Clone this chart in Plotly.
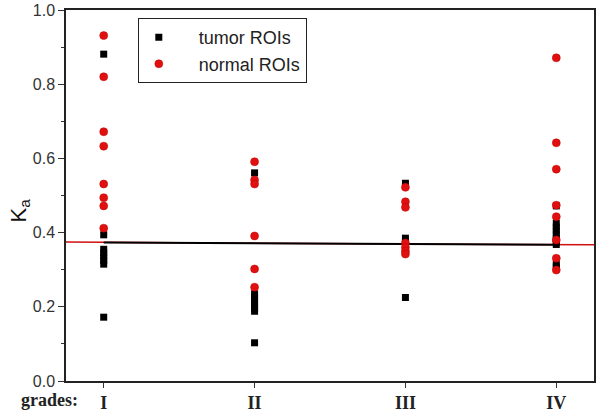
import plotly.graph_objects as go

grades = ["I", "II", "III", "IV"]
grade_pos = [1, 2, 3, 4]

tumor_I = [0.881, 0.394, 0.355, 0.345, 0.335, 0.325, 0.315, 0.172]
tumor_II = [0.561, 0.235, 0.225, 0.215, 0.205, 0.195, 0.188, 0.103]
tumor_III = [0.533, 0.385, 0.375, 0.225]
tumor_IV = [0.472, 0.425, 0.415, 0.405, 0.395, 0.385, 0.375, 0.368, 0.315, 0.308]

normal_I = [0.931, 0.820, 0.672, 0.633, 0.531, 0.494, 0.472, 0.412]
normal_II = [0.591, 0.542, 0.531, 0.391, 0.302, 0.253]
normal_III = [0.522, 0.483, 0.468, 0.372, 0.360, 0.350, 0.342]
normal_IV = [0.871, 0.642, 0.571, 0.474, 0.443, 0.380, 0.331, 0.299]

tumor_mean = [0.373, 0.372, 0.369, 0.367]
normal_line_x = [0.75, 1, 2, 3, 4, 4.25]
normal_line_y = [0.375, 0.374, 0.371, 0.369, 0.367, 0.367]

tumor_groups = [tumor_I, tumor_II, tumor_III, tumor_IV]
normal_groups = [normal_I, normal_II, normal_III, normal_IV]

def flatten(groups):
    xs, ys = [], []
    for p, g in zip(grade_pos, groups):
        xs += [p] * len(g)
        ys += g
    return xs, ys

tx, ty = flatten(tumor_groups)
nx, ny = flatten(normal_groups)

pad = "&nbsp;" * 4

fig = go.Figure()
fig.add_trace(go.Scatter(x=normal_line_x, y=normal_line_y, mode="lines",
                         line=dict(color="#d01010", width=1.5), showlegend=False, hoverinfo="skip"))
fig.add_trace(go.Scatter(x=grade_pos, y=tumor_mean, mode="lines",
                         line=dict(color="black", width=2), showlegend=False, hoverinfo="skip"))
fig.add_trace(go.Scatter(x=tx, y=ty, mode="markers", name=pad + "tumor ROIs",
                         marker=dict(symbol="square", size=7, color="black")))
fig.add_trace(go.Scatter(x=nx, y=ny, mode="markers", name=pad + "normal ROIs",
                         marker=dict(symbol="circle", size=8, color="#e01010",
                                     line=dict(color="#c00000", width=0.5))))

fig.update_layout(
    width=601, height=415,
    margin=dict(l=66, r=7, t=10, b=34, autoexpand=False),
    plot_bgcolor="white", paper_bgcolor="white",
    font=dict(family="Liberation Sans, Arial", color="#222"),
    showlegend=True,
    legend=dict(x=0.136, y=0.978, xanchor="left", yanchor="top",
                bordercolor="#222", borderwidth=1, bgcolor="white",
                font=dict(size=18, color="#222", family="Liberation Sans, Arial"),
                tracegroupgap=0),
    xaxis=dict(range=[0.75, 4.25], tickvals=grade_pos,
               ticktext=["<b>%s</b>" % g for g in grades],
               tickfont=dict(family="Liberation Serif, Times New Roman", size=18, color="#222"),
               showgrid=False, zeroline=False, showline=True, linecolor="#222", linewidth=1.5,
               mirror=True, ticks="outside", ticklen=5, tickcolor="#333", automargin=False),
    yaxis=dict(range=[0, 1.0], dtick=0.2, tickformat=".1f",
               tickfont=dict(family="Liberation Sans Narrow, Liberation Sans, Arial", size=16, color="#333"),
               showgrid=False, zeroline=False, showline=True, linecolor="#222", linewidth=1.5,
               mirror=True, ticks="outside", ticklen=6, tickcolor="#333", automargin=False,
               minor=dict(dtick=0.1, ticks="outside", ticklen=3, tickcolor="#333")),
)

fig.add_annotation(text="K<sub>a</sub>", xref="paper", yref="paper",
                   x=-0.087, y=0.46, xanchor="center", yanchor="middle",
                   textangle=-90, showarrow=False,
                   font=dict(size=22, family="Liberation Sans, Arial", color="#111"))
fig.add_annotation(text="<b>grades:</b>", xref="paper", yref="paper",
                   x=-0.032, y=-0.051, xanchor="center", yanchor="middle",
                   showarrow=False,
                   font=dict(size=18, family="Liberation Serif, Times New Roman", color="#222"))

fig.write_html("out.html", config={"displayModeBar": False},
               post_script="document.body.style.margin='0';document.body.style.overflow='hidden';")
